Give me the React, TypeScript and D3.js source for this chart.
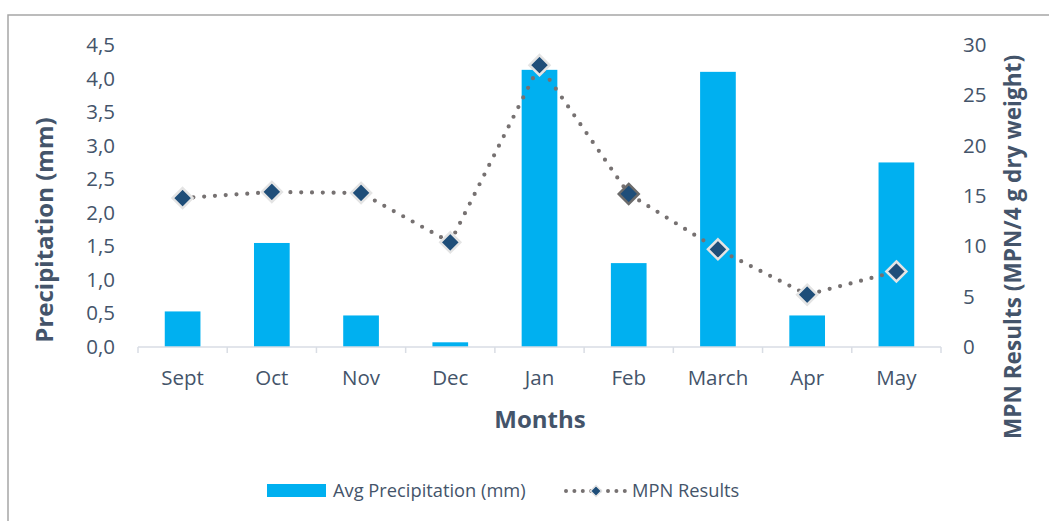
import React from "react";
import * as d3 from "d3";

const months = ["Sept", "Oct", "Nov", "Dec", "Jan", "Feb", "March", "Apr", "May"];
const precipitation = [0.53, 1.55, 0.47, 0.07, 4.13, 1.25, 4.1, 0.47, 2.75];
const mpnResults = [14.8, 15.4, 15.3, 10.4, 28.0, 15.2, 9.7, 5.2, 7.5];
const leftTicks = [0, 0.5, 1, 1.5, 2, 2.5, 3, 3.5, 4, 4.5];
const rightTicks = [0, 5, 10, 15, 20, 25, 30];

const W = 1049;
const H = 521;
const plot = { left: 138, right: 941, top: 45, bottom: 347 };
const textColor = "#44546a";
const font = "'Open Sans', sans-serif";

export default function App() {
  const x = d3
    .scaleBand<string>()
    .domain(months)
    .range([plot.left, plot.right])
    .paddingInner(0.6)
    .paddingOuter(0.3);
  const step = x.step();
  const yL = d3.scaleLinear().domain([0, 4.5]).range([plot.bottom, plot.top]);
  const yR = d3.scaleLinear().domain([0, 30]).range([plot.bottom, plot.top]);

  const cx = (m: string) => (x(m) ?? 0) + x.bandwidth() / 2;
  const line = d3
    .line<number>()
    .x((_, i) => cx(months[i]))
    .y((v) => yR(v))
    .curve(d3.curveLinear);

  const diamond = (r: number) => `M0,${-r}L${r},0L0,${r}L${-r},0Z`;
  const boundaries = d3.range(months.length + 1).map((i) => plot.left + i * step);

  return (
    <div style={{ position: "fixed", left: 0, top: 0 }}>
      <svg width={W} height={H} style={{ display: "block", background: "#fff" }}>
        <rect x={8} y={15} width={W + 10} height={H + 10} fill="#fff" stroke="#a6a6a6" strokeWidth={1.5} />

        {/* bars */}
        {months.map((m, i) => (
          <rect
            key={m}
            x={x(m)}
            y={yL(precipitation[i])}
            width={x.bandwidth()}
            height={plot.bottom - yL(precipitation[i])}
            fill="#00b0f0"
          />
        ))}

        {/* category axis */}
        <line x1={plot.left} x2={plot.right} y1={plot.bottom} y2={plot.bottom} stroke="#d9dde4" strokeWidth={1.5} />
        {boundaries.map((bx, i) => (
          <line key={i} x1={bx} x2={bx} y1={plot.bottom} y2={plot.bottom + 6} stroke="#d9dde4" strokeWidth={1.5} />
        ))}
        {months.map((m) => (
          <text key={m} x={cx(m)} y={385} textAnchor="middle" fontFamily={font} fontSize={20.5} fill={textColor}>
            {m}
          </text>
        ))}

        {/* left axis labels */}
        {leftTicks.map((t) => (
          <text key={t} x={115} y={yL(t) + 7} textAnchor="end" fontFamily={font} fontSize={20.5} fill={textColor}>
            {t.toFixed(1).replace(".", ",")}
          </text>
        ))}
        {/* right axis labels */}
        {rightTicks.map((t) => (
          <text key={t} x={963} y={yR(t) + 7} textAnchor="start" fontFamily={font} fontSize={20.5} fill={textColor}>
            {t}
          </text>
        ))}

        {/* MPN dotted line */}
        <path
          d={line(mpnResults) ?? ""}
          fill="none"
          stroke="#767171"
          strokeWidth={4.2}
          strokeLinecap="round"
          strokeLinejoin="round"
          strokeDasharray="0 10.8"
        />
        {months.map((m, i) => (
          <path
            key={m}
            d={diamond(10)}
            transform={`translate(${cx(m)},${yR(mpnResults[i])})`}
            fill="#1f4e79"
            stroke={m === "Feb" ? "#6b6b6b" : "#e4e4e4"}
            strokeWidth={2.5}
          />
        ))}

        {/* axis titles */}
        <text
          transform={`translate(53,230) rotate(-90)`}
          textAnchor="middle"
          fontFamily={font}
          fontWeight="bold"
          fontSize={24}
          fill={textColor}
        >
          Precipitation (mm)
        </text>
        <text
          transform={`translate(1021,247) rotate(-90)`}
          textAnchor="middle"
          fontFamily={font}
          fontWeight="bold"
          fontSize={22.6}
          fill={textColor}
        >
          MPN Results (MPN/4 g dry weight)
        </text>
        <text x={540} y={428} textAnchor="middle" fontFamily={font} fontWeight="bold" fontSize={24} fill={textColor}>
          Months
        </text>

        {/* legend */}
        <rect x={267} y={484} width={59} height={13} fill="#00b0f0" />
        <text x={333} y={497} fontFamily={font} fontSize={18.3} fill={textColor}>
          Avg Precipitation (mm)
        </text>
        <line x1={566} x2={625} y1={491} y2={491} stroke="#767171" strokeWidth={4} strokeLinecap="round" strokeDasharray="0 8.4" />
        <path d={diamond(5.5)} transform="translate(596,491)" fill="#1f4e79" stroke="#e4e4e4" strokeWidth={1.5} />
        <text x={632} y={497} fontFamily={font} fontSize={18.3} fill={textColor}>
          MPN Results
        </text>
      </svg>
    </div>
  );
}
